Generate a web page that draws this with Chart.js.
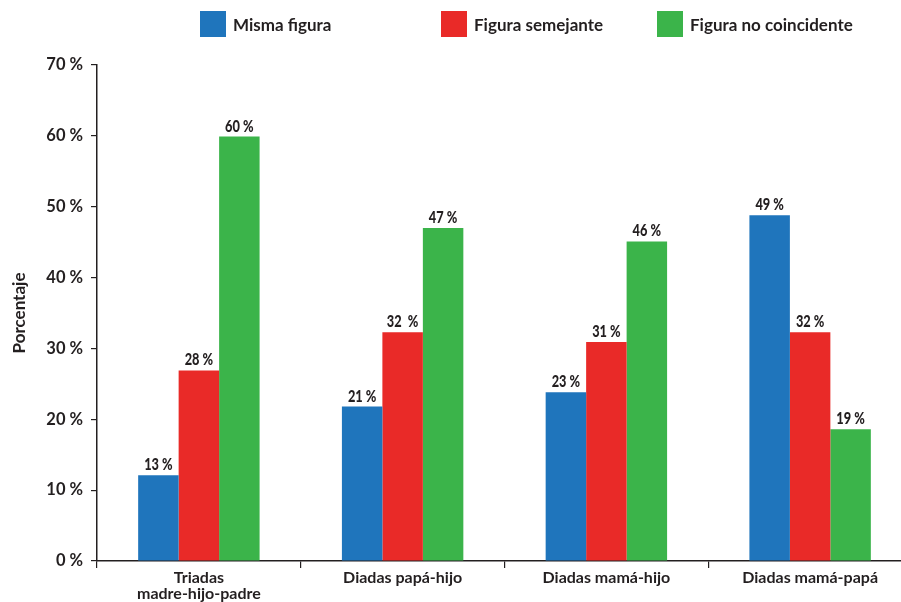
<!DOCTYPE html>
<html lang="es">
<head>
  <meta charset="UTF-8" />
  <title>Figura por tipo de díada</title>
  <style>
    body {
      margin: 0;
      overflow: hidden;
      background: #ffffff;
      font-family: Lato, 'Open Sans', sans-serif;
      color: #231f20;
    }
    .wrap {
      position: relative;
      width: 901px;
      height: 602px;
      overflow: hidden;
    }
    canvas {
      position: absolute;
      left: 0;
      top: 0;
    }
    .legend-item {
      position: absolute;
      top: 11px;
      height: 26px;
      display: flex;
      align-items: center;
      font-weight: bold;
      font-size: 17px;
      white-space: nowrap;
    }
    .legend-item span.box {
      display: inline-block;
      width: 26px;
      height: 26px;
      margin-right: 7px;
    }
  </style>
</head>
<body>
  <div class="wrap">
    <canvas id="grafico" width="912" height="602"></canvas>
    <div id="leyenda"></div>
  </div>

  <script src="https://cdn.jsdelivr.net/npm/chart.js"></script>
  <script>
    const categorias = [
      ['Triadas', 'madre-hijo-padre'],
      'Diadas papá-hijo',
      'Diadas mamá-hijo',
      'Diadas mamá-papá'
    ];
    const series = ['Misma figura', 'Figura semejante', 'Figura no coincidente'];
    const colores = ['#1f75bc', '#e92a28', '#3bb44a'];

    const mismaFigura = [12.1, 21.8, 23.8, 48.8];
    const figuraSemejante = [26.9, 32.3, 30.9, 32.3];
    const figuraNoCoincidente = [59.9, 47.0, 45.1, 18.6];

    // etiquetas impresas sobre las barras
    const etiquetasMisma = ['13 %', '21 %', '23 %', '49 %'];
    const etiquetasSemejante = ['28 %', '32  %', '31 %', '32 %'];
    const etiquetasNoCoincidente = ['60 %', '47 %', '46 %', '19 %'];

    const ticksY = [0, 10, 20, 30, 40, 50, 60, 70];

    const valores = [mismaFigura, figuraSemejante, figuraNoCoincidente];
    const etiquetas = [etiquetasMisma, etiquetasSemejante, etiquetasNoCoincidente];

    // leyenda en HTML, posiciones como en la figura original
    const leyendaX = [200, 441, 657];
    const leyenda = document.getElementById('leyenda');
    series.forEach((s, i) => {
      const item = document.createElement('div');
      item.className = 'legend-item';
      item.style.left = leyendaX[i] + 'px';
      item.innerHTML = `<span class="box" style="background:${colores[i]}"></span>${s}`;
      leyenda.appendChild(item);
    });

    const textoOscuro = '#231f20';

    // números sobre cada barra, letra estrechada como en el original
    const etiquetasPlugin = {
      id: 'etiquetasBarras',
      afterDatasetsDraw(chart) {
        const ctx = chart.ctx;
        ctx.save();
        ctx.font = "900 16px Lato, sans-serif";
        ctx.fillStyle = textoOscuro;
        ctx.textAlign = 'center';
        ctx.textBaseline = 'alphabetic';
        chart.data.datasets.forEach((ds, i) => {
          chart.getDatasetMeta(i).data.forEach((bar, j) => {
            ctx.save();
            ctx.translate(bar.x, bar.y - 5);
            ctx.scale(0.8, 1);
            ctx.fillText(etiquetas[i][j], 0, 0);
            ctx.restore();
          });
        });
        ctx.restore();
      }
    };

    new Chart(document.getElementById('grafico'), {
      type: 'bar',
      data: {
        labels: categorias,
        datasets: series.map((s, i) => ({
          label: s,
          data: valores[i],
          backgroundColor: colores[i],
          borderWidth: 0,
          barPercentage: 1.0,
          categoryPercentage: 0.596
        }))
      },
      options: {
        responsive: false,
        animation: false,
        devicePixelRatio: 1,
        layout: { padding: { top: 65, left: 9, right: 0, bottom: 0 } },
        plugins: {
          legend: { display: false },
          tooltip: { enabled: false }
        },
        scales: {
          x: {
            grid: {
              display: true,
              drawOnChartArea: false,
              offset: true,
              tickLength: 7,
              color: textoOscuro,
              lineWidth: 1.2
            },
            border: { color: textoOscuro, width: 1.5 },
            ticks: {
              color: textoOscuro,
              padding: 1,
              maxRotation: 0,
              autoSkip: false,
              font: { family: 'Lato', weight: 'bold', size: 16, lineHeight: 1.05 }
            },
            afterFit(scale) { scale.height = 41; }
          },
          y: {
            min: 0,
            max: 70,
            afterBuildTicks(scale) {
              scale.ticks = ticksY.map(v => ({ value: v }));
            },
            grid: {
              drawOnChartArea: false,
              tickLength: 6,
              color: textoOscuro,
              lineWidth: 1.2
            },
            border: { color: textoOscuro, width: 1.5 },
            ticks: {
              color: textoOscuro,
              padding: 8,
              font: { family: 'Lato', weight: 'bold', size: 16.5 },
              callback: v => v + ' %'
            },
            title: {
              display: true,
              text: 'Porcentaje',
              color: textoOscuro,
              padding: { top: 0, bottom: 10 },
              font: { family: 'Lato', weight: 'bold', size: 17 }
            },
            afterFit(scale) { scale.width = 88; }
          }
        }
      },
      plugins: [etiquetasPlugin]
    });
  </script>
</body>
</html>
